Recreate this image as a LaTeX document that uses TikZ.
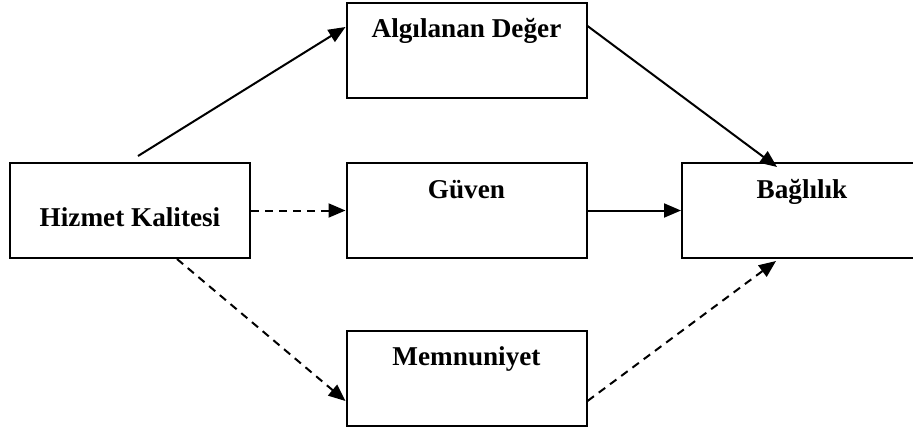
\documentclass[tikz,border=0pt]{standalone}
\usepackage{fontspec}
\setmainfont{Liberation Serif}
\usetikzlibrary{arrows.meta,calc}
\begin{document}
\begin{tikzpicture}[x=1pt,y=-1pt,
  box/.style={draw,line width=2pt,minimum width=240pt,minimum height=95pt,inner sep=0pt},
  lbl/.style={anchor=base,font=\fontsize{27.2}{32}\selectfont\bfseries,inner sep=0pt},
  link/.style={line width=2pt,-{Triangle[length=17pt,width=14pt]}},
  dlink/.style={link,dash pattern=on 8pt off 6pt}]
\clip (0,0) rectangle (913,434);
\fill[white] (0,0) rectangle (913,434);

% boxes
\node[box] (ad) at (466.5,50.5) {};
\node[box] (hk) at (130,210.5) {};
\node[box] (gv) at (466.5,210.5) {};
\node[box] (bg) at (802,210.5) {};
\node[box] (mn) at (466.5,378.5) {};

% labels
\node[lbl] (adt) at (466.5,37) {Algılanan Değer};
\node[lbl] (hkt) at (130,226) {Hizmet Kalitesi};
\node[lbl] (gvt) at (466.5,198) {Güven};
\node[lbl] (bgt) at (802,198) {Bağlılık};
\node[lbl] (mnt) at (466.5,365) {Memnuniyet};

% connectors
\draw[link] ($(hk.north west)+(129,-6)$) -- ($(ad.north west)+(0,25)$);
\draw[link] ($(ad.north east)+(0,24)$) -- ($(bg.north west)+(96,5)$);
\draw[dlink] (hk.east) -- (gv.west);
\draw[link] (gv.east) -- (bg.west);
\draw[dlink] ($(hk.south west)+(168,0)$) -- ($(mn.north west)+(0,71)$);
\draw[dlink] ($(mn.north east)+(0,71)$) -- ($(bg.south west)+(95,2)$);
\end{tikzpicture}
\end{document}
